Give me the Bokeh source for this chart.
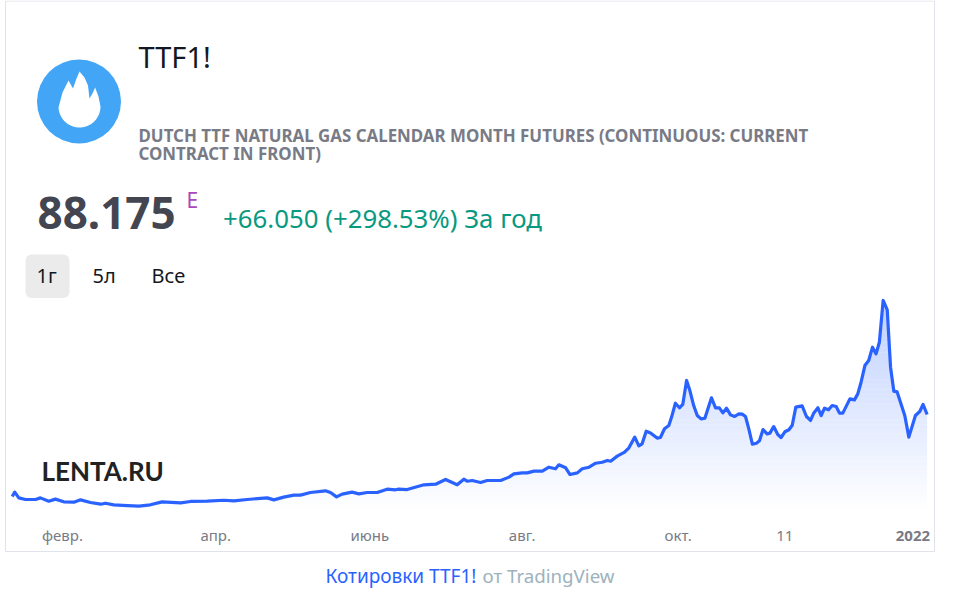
from bokeh.plotting import figure
from bokeh.embed import file_html
from bokeh.resources import INLINE
from bokeh.models import Range1d, LinearAxis, FixedTicker
from bokeh.core.properties import value
import numpy as np

# days since 2021-02-01
days = [-19.8,-18.8,-17.2,-14.6,-10.6,-8.7,-5.4,-2.8,0.5,4.5,7.1,11.0,15.0,16.9,20.2,25.5,30.1,34.6,39.2,46.5,50.4,57.0,63.5,67.5,72.7,80.6,83.2,87.1,91.1,93.7,97.6,103.5,105.5,107.9,110.1,114.0,116.7,119.9,123.9,127.8,131.1,132.4,135.7,142.3,146.9,150.8,155.4,158.0,159.3,161.3,164.6,
        167.2,172.5,175.8,177.7,181.0,183.0,185.6,188.9,191.5,194.1,195.4,198.1,199.8,202.7,204.6,207.3,209.9,212.5,214.5,215.8,218.4,221.3,
        223.0,225.3,226.9,228.2,229.8,231.5,234.1,235.4,237.0,238.7,239.8,241.3,242.9,244.2,245.7,247.0,248.5,249.9,251.4,252.9,255.5,257.1,258.6,260.0,261.4,263.0,264.6,266.3,267.6,268.9,270.2,271.6,273.2,274.4,275.8,277.4,278.5,280.0,281.6,282.9,284.4,286.0,287.3,288.7,291.2,292.9,294.5,295.8,297.4,298.7,300.0,301.6,303.0,304.6,305.9,307.2,310.0,311.8,313.1,314.4,315.9,317.4,318.9,320.3,321.6,323.1,324.7,326.0,327.3,328.6,331.6,333.2,335.8,337.5,338.8,340.4]
prices = [22.1,25.6,21.0,19.7,19.7,21.0,18.3,20.0,17.8,17.5,19.4,17.3,15.9,16.7,15.4,14.8,14.3,15.4,17.8,17.0,18.1,18.3,19.1,18.6,19.7,21.0,19.4,21.6,23.2,23.2,25.3,26.7,25.3,21.8,24.0,25.6,24.2,25.3,25.3,28.0,27.5,28.0,27.7,31.5,32.0,35.8,31.5,36.0,34.4,35.0,33.4,
          35.0,35.0,37.7,40.3,41.1,41.1,42.5,42.5,45.7,44.4,47.6,45.2,39.8,41.1,44.4,45.7,48.9,49.7,51.1,50.5,54.6,57.8,
          61.3,69.9,62.9,64.5,74.7,73.3,69.1,69.6,76.6,79.2,86.0,97.2,93.5,96.2,115.5,107.4,95.3,87.3,84.6,85.1,101.5,93.5,93.5,89.4,93.2,87.8,86.5,88.6,88.4,86.5,76.6,64.2,65.0,66.9,76.0,72.5,73.1,78.4,72.0,69.6,74.2,75.8,79.5,94.0,95.1,86.5,83.3,89.4,93.5,87.3,93.2,91.9,95.3,94.5,89.2,89.2,100.7,99.9,104.7,114.1,127.5,131.6,142.3,136.9,146.3,179.9,172.3,126.2,106.9,106.3,87.3,69.9,87.3,90.5,96.2,88.1]
tick_days = [0, 60.3, 121, 181, 242.4, 284.4]
tick_labels = ["февр.", "апр.", "июнь", "авг.", "окт.", "11"]
year_day = 334.8
year_label = "2022"

W, H = 937, 593
FONT = "Noto Sans"

p = figure(width=W, height=H, output_backend="svg", toolbar_location=None,
           min_border=0, x_axis_type=None, y_axis_type=None,
           x_range=Range1d((0-62)/2.54, (W-62)/2.54),
           y_range=Range1d(22.1+(496-H)*0.805, 22.1+496*0.805))
p.styles = {"position": "absolute", "left": "0px", "top": "0px"}
p.outline_line_color = None
p.background_fill_color = "white"
p.border_fill_color = "white"
p.grid.visible = False
p.extra_x_ranges["px"] = Range1d(0, W)
p.extra_y_ranges["px"] = Range1d(H, 0)
PX = dict(x_range_name="px", y_range_name="px")

# gradient area: bands of colour, masked above the line
edges = np.arange(10, 182, 2.0)
cols = []
for lo in edges[:-1]:
    a = 0.3 * (lo + 1 - 10) / 170
    cols.append("#%02x%02x%02x" % (round(255 - 214*a), round(255 - 157*a), 255))
p.quad(left=days[0], right=days[-1], bottom=edges[:-1], top=edges[1:] + 0.3,
       fill_color=cols, line_color=None)
mx = [days[0] - 1] + days + [days[-1] + 1]
my = [prices[0]] + prices + [prices[-1]]
p.varea(x=mx, y1=my, y2=[186]*len(mx), fill_color="white")
p.line(days, prices, line_color="#2962ff", line_width=3.2, line_join="round")

ax = LinearAxis(fixed_location=22.1+(496-514)*0.805,
                ticker=FixedTicker(ticks=tick_days),
                major_label_overrides=dict(zip(tick_days, tick_labels)),
                major_label_text_font=FONT, major_label_text_font_size="15px",
                major_label_text_color="#787b86", major_label_standoff=4,
                axis_line_color=None, major_tick_line_color=None,
                minor_tick_line_color=None)
p.add_layout(ax, "below")

# panel border
p.quad(left=5, right=934, top=0.5, bottom=551, fill_color=None,
       line_color="#e0e3eb", line_width=1, **PX)

# logo
p.scatter(x=[78.5], y=[101], size=84, marker="circle", fill_color="#42a5f5", line_color=None, **PX)
th = np.linspace(0, np.pi, 30)
fx = [58, 62, 68, 72.5, 76, 79, 84, 87.5, 89, 92, 94.6, 98, 100] + list(79 + 21*np.cos(th))
fy = [107, 92, 80, 88, 78, 71, 77, 85, 98, 93, 87, 96, 106] + list(106 + 21*np.sin(th))
p.patch(fx, fy, fill_color="white", line_color=None, **PX)

def t(x, y, s, size, color, style="normal", font=FONT, align="left"):
    p.text(x=[x - 1], y=[y - 0.36*size], text=[s], text_font=value(font), text_font_size=f"{size}px",
           text_color=color, text_font_style=style, text_align=align,
           text_baseline="alphabetic", **PX)

t(139, 66, "TTF1!", 29, "#131722")
t(139, 141.5, "DUTCH TTF NATURAL GAS CALENDAR MONTH FUTURES (CONTINUOUS: CURRENT", 16.9, "#787b86", "bold")
t(139, 159.5, "CONTRACT IN FRONT)", 16.9, "#787b86", "bold")
t(38, 228, "88.175", 44, "#434651", "bold")
t(187, 207, "E", 21, "#ab47bc")
t(223.5, 226.5, "+66.050 (+298.53%) За год", 25.8, "#089981")

p.quad(left=25, right=69, top=254, bottom=297.5, fill_color="#ebebeb", line_color=None, border_radius=6, **PX)
t(37, 282, "1г", 20, "#131722")
t(93, 282, "5л", 20, "#131722")
t(152, 282, "Все", 20, "#131722")

t(42, 480, "LENTA.RU", 26, "#222222", "bold", font="Lato")

p.text(x=[year_day], y=[535.5], text=[year_label], text_font=value(FONT), text_font_size="15px",
       text_color="#787b86", text_font_style="bold", text_align="center",
       text_baseline="alphabetic", y_range_name="px")

t(326, 582, "Котировки TTF1!", 19, "#2962ff")
t(483, 582, "от TradingView", 18.7, "#9db2bd")

open("out.html", "w").write(file_html(p, INLINE))
